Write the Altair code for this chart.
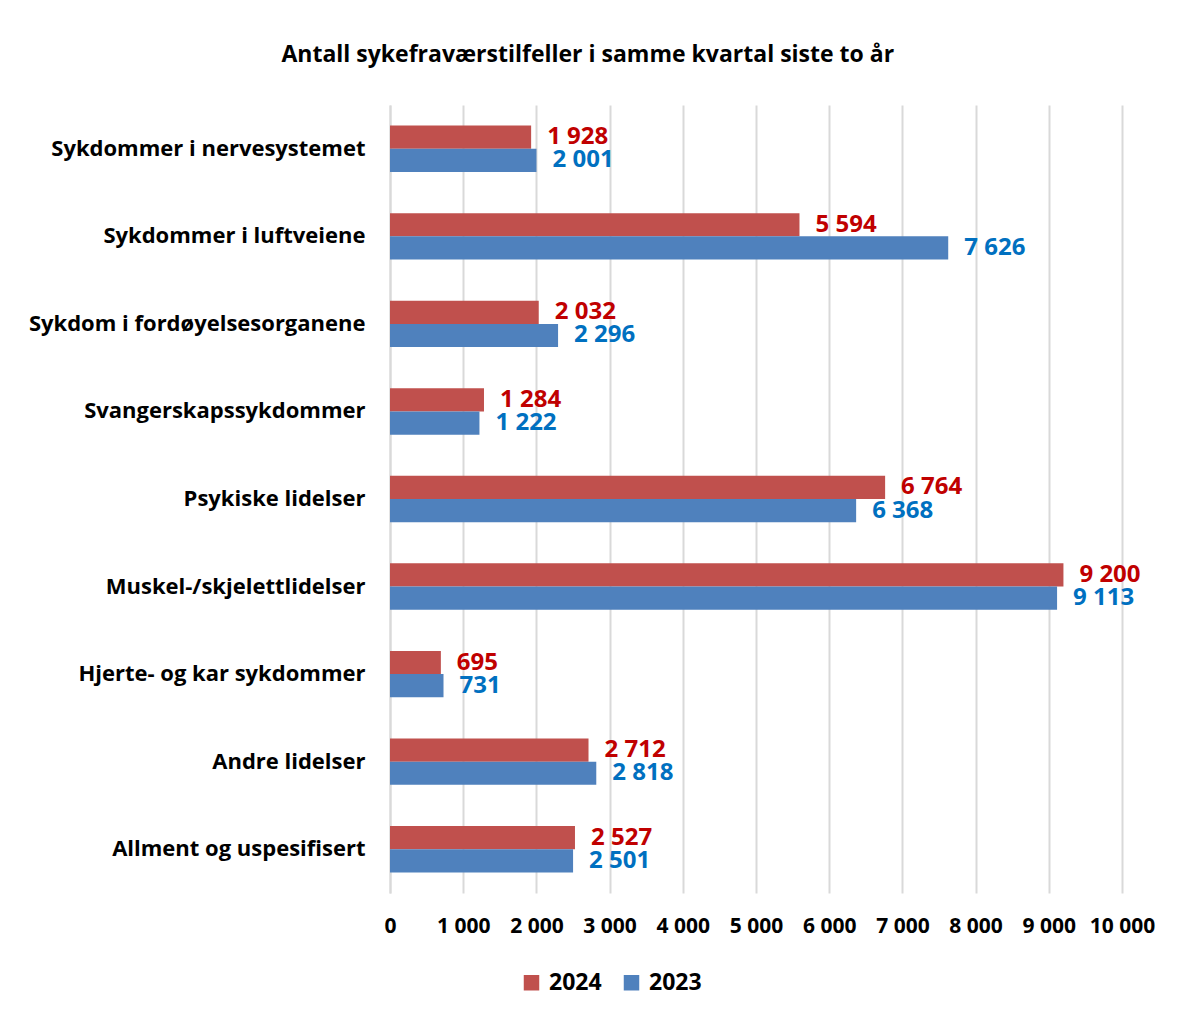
import altair as alt
import pandas as pd

categories = [
    "Sykdommer i nervesystemet",
    "Sykdommer i luftveiene",
    "Sykdom i fordøyelsesorganene",
    "Svangerskapssykdommer",
    "Psykiske lidelser",
    "Muskel-/skjelettlidelser",
    "Hjerte- og kar sykdommer",
    "Andre lidelser",
    "Allment og uspesifisert",
]
values_2024 = [1928, 5594, 2032, 1284, 6764, 9200, 695, 2712, 2527]
values_2023 = [2001, 7626, 2296, 1222, 6368, 9113, 731, 2818, 2501]
years = ["2024", "2023"]

rows = []
for c, a, b in zip(categories, values_2024, values_2023):
    rows.append({"cat": c, "year": "2024", "value": a})
    rows.append({"cat": c, "year": "2023", "value": b})
df = pd.DataFrame(rows)
df["label"] = df["value"].map(lambda v: f"{v:,}".replace(",", " "))

FONT = "Open Sans"
bar_colors = ["#C0504D", "#4F81BD"]
text_colors = ["#C00000", "#0070C0"]

y_axis = alt.Axis(labelFontSize=22, labelFontWeight="bold", labelColor="#000000",
                  labelFont=FONT, ticks=False, domain=True, domainColor="#D9D9D9",
                  domainWidth=2, labelPadding=25, labelLimit=500, grid=False)
x_axis = alt.Axis(values=list(range(0, 10001, 1000)),
                  labelExpr="datum.value == 0 ? '0' : (datum.value/1000) + ' 000'",
                  labelFontSize=21, labelFontWeight="bold", labelFont=FONT,
                  labelColor="#000000", ticks=False, domain=False, labelPadding=22,
                  labelOverlap=False, labelFlush=False,
                  grid=True, gridColor="#D9D9D9", gridWidth=2)
x_scale = alt.Scale(domain=[0, 10000], nice=False)
y_scale = alt.Scale(paddingInner=0.47, paddingOuter=0.235)
yoff = alt.YOffset("year:N", sort=years, scale=alt.Scale(paddingInner=0, paddingOuter=0))

bars = alt.Chart(df).mark_bar().encode(
    x=alt.X("value:Q", title=None, scale=x_scale, axis=x_axis),
    y=alt.Y("cat:N", sort=categories, title=None, scale=y_scale, axis=y_axis),
    yOffset=yoff,
    color=alt.Color("year:N", sort=years,
                    scale=alt.Scale(domain=years, range=bar_colors),
                    legend=alt.Legend(title=None, orient="none", legendX=130, legendY=866,
                                      direction="horizontal",
                                      labelFontSize=23, labelFontWeight="bold", labelFont=FONT,
                                      labelColor="#000000", symbolType="square", symbolSize=240,
                                      symbolStrokeWidth=0, columnPadding=18, labelOffset=6)),
)

texts = alt.Chart(df).mark_text(align="left", baseline="middle", dx=16,
                                fontSize=24, fontWeight="bold", font=FONT).encode(
    x=alt.X("value:Q", title=None, scale=x_scale, axis=x_axis),
    y=alt.Y("cat:N", sort=categories, title=None, scale=y_scale, axis=y_axis),
    yOffset=yoff,
    text="label:N",
    color=alt.Color("year:N", scale=alt.Scale(domain=years, range=text_colors), legend=None),
)

chart = alt.layer(bars, texts).resolve_scale(color="independent").properties(
    width=732, height=788,
    background="white",
    title=alt.TitleParams("Antall sykefraværstilfeller i samme kvartal siste to år",
                          fontSize=23, fontWeight="bold", font=FONT, color="#000000",
                          anchor="start", frame="bounds", dx=253, offset=38),
    padding={"left": 20, "top": 36, "right": 10, "bottom": 14},
).configure_view(stroke=None)

chart.save("out.html", embed_options={"renderer": "svg", "actions": False})
